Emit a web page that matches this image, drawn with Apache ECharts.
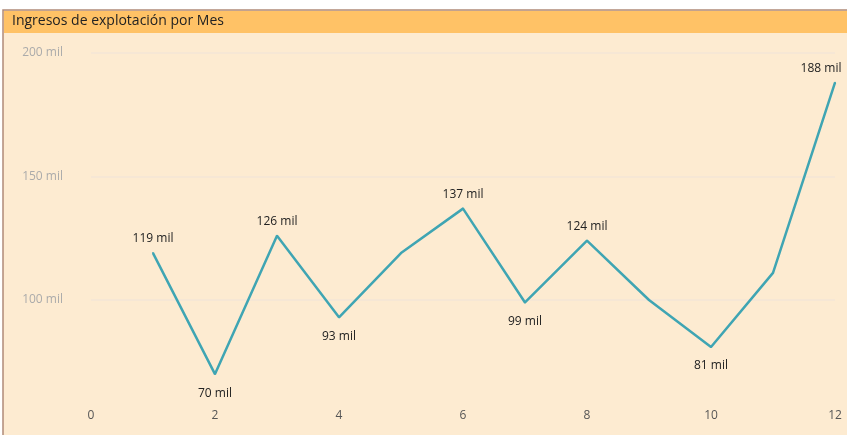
<!DOCTYPE html>
<html><head><meta charset="utf-8">
<script src="https://cdn.jsdelivr.net/npm/echarts@6/dist/echarts.min.js"></script>
<style>html,body{margin:0;padding:0;background:#fff;}#c{width:847px;height:435px;}</style>
</head><body><div id="c"></div>
<script>
const titleText = 'Ingresos de explotación por Mes';
const months = [1,2,3,4,5,6,7,8,9,10,11,12];
const values = [119,70,126,93,119,137,99,124,100,81,111,188];
const labelShown = [true,true,true,true,false,true,true,true,false,true,false,true];
const labelBelow = [false,true,false,true,false,false,true,false,false,true,false,false];
const yTicks = [100,150,200];
const xTicks = [0,2,4,6,8,10,12];

const chart = echarts.init(document.getElementById('c'));
const fontFam = '"Open Sans", "Noto Sans", sans-serif';
const data = months.map((m,i)=>({
  value:[m, values[i]],
  label:{show:labelShown[i], position: labelBelow[i]?'bottom':'top',
    distance: labelBelow[i]?12:7,
    offset: i===months.length-1 ? [-14,0] : [0,0]}
}));
chart.setOption({
  animation:false,
  backgroundColor:'#fff',
  graphic:[
    {type:'rect', shape:{x:3,y:10,width:846,height:427}, style:{fill:'#FDEBD1', stroke:'#B08A78', lineWidth:1.5}, z:-10, silent:true},
    {type:'rect', shape:{x:4,y:11,width:843,height:22}, style:{fill:'#FFC266'}, z:-9, silent:true},
    {type:'text', left:12, top:14, style:{text:titleText, fill:'#222', font:'14px '+fontFam}, z:10}
  ],
  grid:{left:91, right:12, top:53, bottom:11.5, containLabel:false},
  xAxis:{type:'value', min:0, max:12, interval:2,
    axisLine:{show:false}, axisTick:{show:false}, splitLine:{show:false},
    axisLabel:{inside:true, margin:2, color:'#555', fontSize:12, fontFamily:fontFam, verticalAlign:'bottom'}},
  yAxis:{type:'value', min:50, max:200, interval:50,
    axisLine:{show:false}, axisTick:{show:false},
    splitLine:{show:true, lineStyle:{color:['transparent','#F3E6D6','#F3E6D6','#F3E6D6'], width:1.5}},
    axisLabel:{margin:28, color:'#ABABAB', fontSize:12, fontFamily:fontFam,
      formatter:v=> yTicks.includes(v) ? v+' mil' : ''}},
  series:[{type:'line', data:data, symbol:'circle', symbolSize:2, showSymbol:true, showAllSymbol:true, smooth:false,
    itemStyle:{color:'#3FA5B3'},
    lineStyle:{color:'#3FA5B3', width:2.5},
    label:{color:'#222', fontSize:12, fontFamily:fontFam,
      formatter:p=>p.value[1]+' mil'}}]
});
</script></body></html>
